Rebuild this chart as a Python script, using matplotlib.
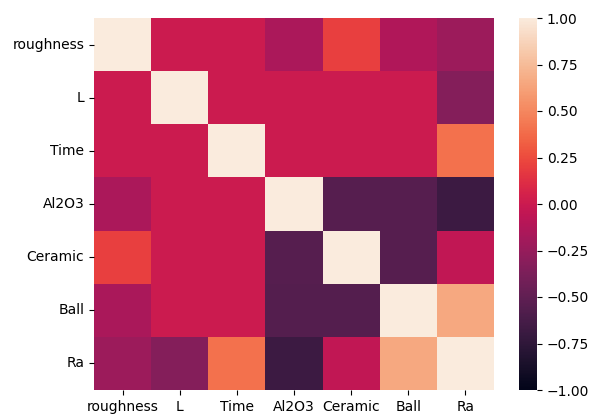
import numpy as np
import pandas as pd
import matplotlib
matplotlib.use("Agg")
import matplotlib.pyplot as plt
import seaborn as sns

# variable names and their correlation matrix
cols = ["roughness", "L", "Time", "Al2O3", "Ceramic", "Ball", "Ra"]
r_roughness = [1.00, 0.00, 0.00, -0.15, 0.20, -0.13, -0.22]
r_L = [0.00, 1.00, 0.00, 0.00, 0.00, 0.00, -0.33]
r_time = [0.00, 0.00, 1.00, 0.00, 0.00, 0.00, 0.40]
r_al2o3 = [-0.15, 0.00, 0.00, 1.00, -0.55, -0.55, -0.68]
r_ceramic = [0.20, 0.00, 0.00, -0.55, 1.00, -0.55, -0.05]
r_ball = [-0.16, 0.00, 0.00, -0.56, -0.56, 1.00, 0.65]
r_ra = [-0.22, -0.33, 0.40, -0.68, -0.05, 0.65, 1.00]

corr = pd.DataFrame([r_roughness, r_L, r_time, r_al2o3, r_ceramic, r_ball, r_ra],
                    index=cols, columns=cols)

W, H = 597, 417
fig = plt.figure(figsize=(W / 100, H / 100), dpi=100)
ax = fig.add_axes([94 / W, (H - 390) / H, 400 / W, 372 / H])
cax = fig.add_axes([519 / W, (H - 390) / H, 18 / W, 372 / H])
sns.heatmap(corr, vmin=-1, vmax=1, ax=ax, cbar_ax=cax)
ax.tick_params(axis="y", rotation=0)
ax.tick_params(axis="x", rotation=0)
fig.savefig("out.png", dpi=100)
